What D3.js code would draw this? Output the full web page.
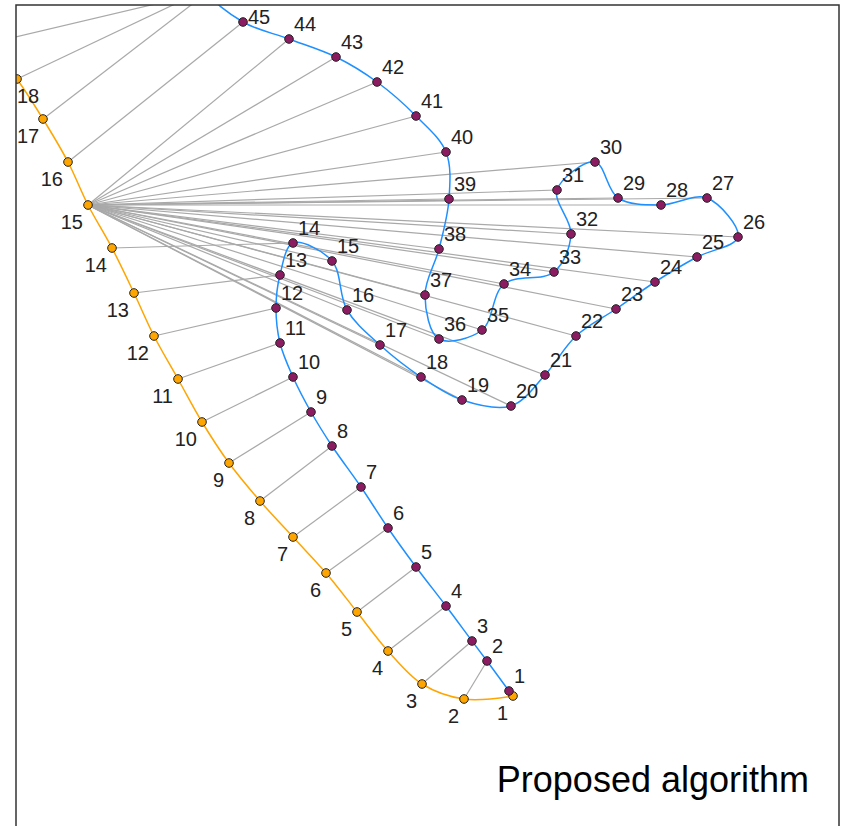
<!DOCTYPE html>
<html>
<head>
<meta charset="utf-8">
<script src="https://cdn.jsdelivr.net/npm/d3@7"></script>
<style>
  body { margin: 0; background: #fff; }
  svg { display: block; font-family: "Liberation Sans", Arial, sans-serif; }
</style>
</head>
<body>
<svg width="844" height="826"></svg>
<script>
// reference curve (orange), points 1..19 (19 falls outside the frame)
var orangeX = [513, 464, 422, 388, 357, 326, 293, 260, 229, 202, 178, 154, 134, 112, 88, 68, 43, 17, -10];
var orangeY = [696, 699, 684, 651, 612, 573, 537, 501, 463, 422, 379, 336, 293, 248, 205, 162, 119, 79, 43];

// query curve (blue), points 1..48 (46-48 fall above the frame)
var blueX = [509, 487, 472, 446, 416, 388, 361, 332, 311, 293, 280, 276, 280, 293, 332, 347, 380, 421, 462, 511,
             545, 576, 616, 655, 697, 738, 707, 661, 618, 595, 557, 571, 554, 504, 482, 439, 425, 439, 449, 446,
             416, 377, 336, 289, 243, 208, 215, 257];
var blueY = [691, 661, 641, 606, 567, 528, 487, 446, 412, 377, 343, 308, 275, 243, 261, 310, 345, 377, 400, 406,
             375, 336, 309, 282, 257, 237, 198, 205, 198, 162, 190, 234, 272, 284, 330, 339, 295, 249, 199, 152,
             116, 82, 57, 39, 22, -8, -15, -20];

// alignment path: orange index -> blue index (1-based)
var matchOrange = [1, 2, 3, 4, 5, 6, 7, 8, 9, 10, 11, 12, 13, 14,
                   15, 15, 15, 15, 15, 15, 15, 15, 15, 15, 15, 15, 15, 15, 15,
                   15, 15, 15, 15, 15, 15, 15, 15, 15, 15, 15, 15, 15, 15, 15,
                   16, 17, 18, 19];
var matchBlue = [1, 2, 3, 4, 5, 6, 7, 8, 9, 10, 11, 12, 13, 14,
                 15, 16, 17, 18, 19, 20, 21, 22, 23, 24, 25, 26, 27, 28, 29,
                 30, 31, 32, 33, 34, 35, 36, 37, 38, 39, 40, 41, 42, 43, 44,
                 45, 46, 47, 48];

var title = "Proposed algorithm";

var svg = d3.select("svg");
var box = { left: 16, top: 5, right: 839, bottom: 840 };

var x = d3.scaleLinear().domain([box.left, box.right]).range([box.left, box.right]);
var y = d3.scaleLinear().domain([box.top, box.bottom]).range([box.top, box.bottom]);

var orange = orangeX.map(function(d, i){ return { n: i + 1, x: d, y: orangeY[i] }; });
var blue = blueX.map(function(d, i){ return { n: i + 1, x: d, y: blueY[i] }; });
var links = matchOrange.map(function(d, i){ return { a: orange[d - 1], b: blue[matchBlue[i] - 1] }; });

svg.append("defs").append("clipPath").attr("id", "frame")
  .append("rect")
  .attr("x", box.left).attr("y", box.top)
  .attr("width", box.right - box.left).attr("height", box.bottom - box.top);

var plot = svg.append("g").attr("clip-path", "url(#frame)");

plot.append("g").selectAll("line").data(links).enter().append("line")
  .attr("x1", function(d){ return x(d.a.x); })
  .attr("y1", function(d){ return y(d.a.y); })
  .attr("x2", function(d){ return x(d.b.x); })
  .attr("y2", function(d){ return y(d.b.y); })
  .attr("stroke", "#a9a9a9")
  .attr("stroke-width", 1.2);

var line = d3.line()
  .x(function(d){ return x(d.x); })
  .y(function(d){ return y(d.y); })
  .curve(d3.curveCatmullRom.alpha(0.5));

plot.append("path").datum(orange).attr("d", line)
  .attr("fill", "none").attr("stroke", "#ffa500").attr("stroke-width", 1.5);
plot.append("path").datum(blue).attr("d", line)
  .attr("fill", "none").attr("stroke", "#1e90ff").attr("stroke-width", 1.5);

plot.append("g").selectAll("circle").data(orange).enter().append("circle")
  .attr("cx", function(d){ return x(d.x); })
  .attr("cy", function(d){ return y(d.y); })
  .attr("r", 4.3)
  .attr("fill", "#ffa500")
  .attr("stroke", "#222").attr("stroke-width", 1);

plot.append("g").selectAll("circle").data(blue).enter().append("circle")
  .attr("cx", function(d){ return x(d.x); })
  .attr("cy", function(d){ return y(d.y); })
  .attr("r", 4.3)
  .attr("fill", "#8b1c62")
  .attr("stroke", "#222").attr("stroke-width", 1);

function inside(d){
  return x(d.x) >= box.left && x(d.x) <= box.right && y(d.y) >= box.top && y(d.y) <= box.bottom;
}

// orange labels sit below-left of their point, kept inside the frame
svg.append("g").selectAll("text").data(orange.filter(inside)).enter().append("text")
  .attr("x", function(d){
    var w = String(d.n).length * 11.1;
    return Math.max(x(d.x) - 5, box.left + 1 + w);
  })
  .attr("y", function(d){ return y(d.y) + 24; })
  .attr("text-anchor", "end")
  .attr("font-size", 20)
  .attr("fill", "#222")
  .text(function(d){ return d.n; });

// blue labels sit above-right of their point
svg.append("g").selectAll("text").data(blue.filter(inside)).enter().append("text")
  .attr("x", function(d){ return x(d.x) + 5; })
  .attr("y", function(d){ return Math.max(y(d.y) - 8, box.top + 19); })
  .attr("font-size", 20)
  .attr("fill", "#222")
  .text(function(d){ return d.n; });

svg.append("text")
  .attr("x", 809).attr("y", 792)
  .attr("text-anchor", "end")
  .attr("font-size", 36)
  .attr("fill", "#000")
  .text(title);

svg.append("rect")
  .attr("x", box.left).attr("y", box.top)
  .attr("width", box.right - box.left).attr("height", box.bottom - box.top)
  .attr("fill", "none").attr("stroke", "#333").attr("stroke-width", 1.5);
</script>
</body>
</html>
